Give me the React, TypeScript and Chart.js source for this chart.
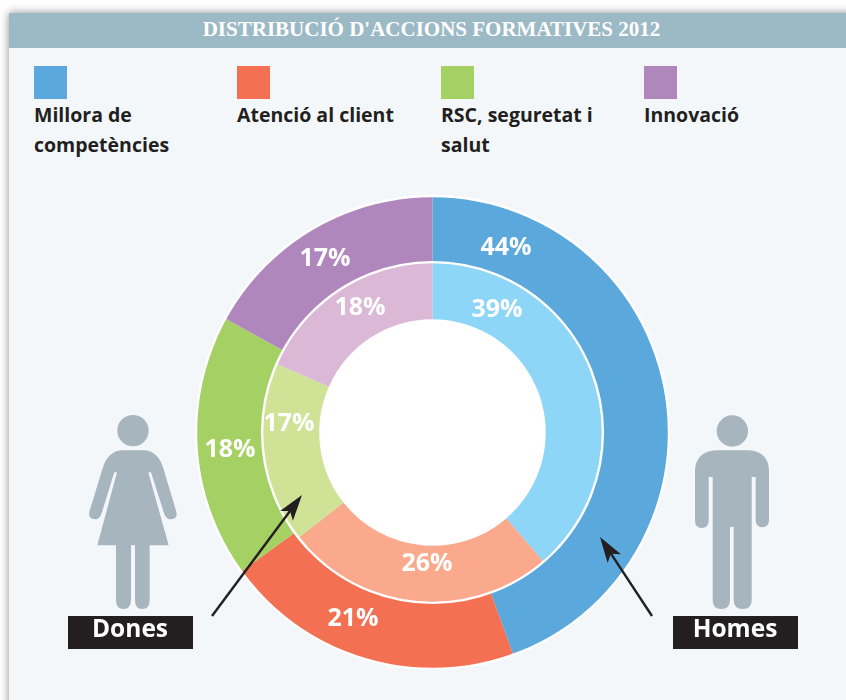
import React, { useEffect, useRef } from "react";
import { Chart, registerables } from "chart.js";

Chart.register(...registerables);

const TITLE = "DISTRIBUCIÓ D'ACCIONS FORMATIVES 2012";
const CATEGORIES = ["Millora de competències", "Atenció al client", "RSC, seguretat i salut", "Innovació"];
const LEGEND_LINES = [["Millora de", "competències"], ["Atenció al client"], ["RSC, seguretat i", "salut"], ["Innovació"]];
const HOMES = [44.45, 20.55, 18, 17];
const DONES = [38.7, 25.7, 17.2, 18.4];
const HOMES_COLORS = ["#5ba8dc", "#f47052", "#a5d063", "#b087bd"];
const DONES_COLORS = ["#8dd6f7", "#fba98c", "#cfe296", "#dcb8d7"];
const HOMES_LABEL_AT = [[506, 248], [353, 619], [230, 450], [325, 259]];
const DONES_LABEL_AT = [[497, 310], [427, 564], [289, 424], [360, 308]];
const LEGEND_X = [34, 237, 441, 644];

const FIG = "#a7b5bf";
const INK = "#231f20";
const SANS = '"Open Sans", "Noto Sans", sans-serif';

const WOMAN = "M215 151L285 151Q325 155 340 205L379 335Q385 357 362 358Q348 358 342 340L303 217L295 217L356 436L299 436L299 600Q299 627 276 627Q255 627 255 600L255 436L243 436L243 600Q243 627 220 627Q198 627 198 600L198 436L142 436L201 217L193 217L155 340Q149 358 135 358Q113 357 118 335L158 205Q172 155 215 151Z";
const MAN = "M380 151L475 151Q537 155 537 215L537 360Q537 382 517 382Q497 382 497 360L497 231L485 231L485 600Q485 627 458 627Q431 627 431 600L431 381L420 381L420 600Q420 627 394 627Q368 627 368 600L368 231L356 231L356 360Q356 384 335 384Q315 384 315 360L315 215Q315 155 380 151Z";

function arrow(ctx: CanvasRenderingContext2D, x0: number, y0: number, x1: number, y1: number) {
  const a = Math.atan2(y1 - y0, x1 - x0);
  ctx.save();
  ctx.translate(x1, y1);
  ctx.rotate(a);
  ctx.strokeStyle = INK;
  ctx.fillStyle = INK;
  ctx.lineWidth = 2.4;
  ctx.beginPath();
  ctx.moveTo(-Math.hypot(x1 - x0, y1 - y0), 0);
  ctx.lineTo(-16, 0);
  ctx.stroke();
  ctx.beginPath();
  ctx.moveTo(0, 0);
  ctx.lineTo(-26, 8);
  ctx.lineTo(-20, 0);
  ctx.lineTo(-26, -8);
  ctx.closePath();
  ctx.fill();
  ctx.restore();
}

function figure(ctx: CanvasRenderingContext2D, ox: number, oy: number, path: string, hx: number, hy: number) {
  ctx.save();
  ctx.translate(ox, oy);
  ctx.scale(1 / 3, 1 / 3);
  ctx.fillStyle = FIG;
  ctx.fill(new Path2D(path));
  ctx.beginPath();
  ctx.arc(hx, hy, 47, 0, Math.PI * 2);
  ctx.fill();
  ctx.restore();
}

function tag(ctx: CanvasRenderingContext2D, x: number, text: string) {
  ctx.fillStyle = INK;
  ctx.fillRect(x, 616, 125, 33);
  ctx.fillStyle = "#ffffff";
  ctx.font = `700 24.5px ${SANS}`;
  ctx.textAlign = "center";
  ctx.textBaseline = "alphabetic";
  ctx.fillText(text, x + 62, 637);
}

const decor = {
  id: "decor",
  beforeDatasetsDraw(chart: any) {
    const { ctx } = chart;
    const arc = chart.getDatasetMeta(1).data[0];
    ctx.save();
    ctx.fillStyle = "#ffffff";
    ctx.beginPath();
    ctx.arc(arc.x, arc.y, arc.innerRadius, 0, Math.PI * 2);
    ctx.fill();
    ctx.restore();
  },
  afterDatasetsDraw(chart: any) {
    const { ctx } = chart;
    ctx.save();
    [0, 1].forEach((i) => {
      const arc = chart.getDatasetMeta(i).data[0];
      ctx.strokeStyle = "#ffffff";
      ctx.lineWidth = 2.4;
      ctx.beginPath();
      ctx.arc(arc.x, arc.y, arc.outerRadius, 0, Math.PI * 2);
      ctx.stroke();
    });
    ctx.fillStyle = "#ffffff";
    ctx.font = `700 25px ${SANS}`;
    ctx.textAlign = "center";
    ctx.textBaseline = "middle";
    HOMES.forEach((v, i) => ctx.fillText(`${Math.round(v)}%`, HOMES_LABEL_AT[i][0], HOMES_LABEL_AT[i][1]));
    DONES.forEach((v, i) => ctx.fillText(`${Math.round(v)}%`, DONES_LABEL_AT[i][0], DONES_LABEL_AT[i][1]));
    figure(ctx, 50, 400, WOMAN, 249, 92);
    figure(ctx, 590, 400, MAN, 427, 93);
    arrow(ctx, 212, 616, 302, 495);
    arrow(ctx, 652, 616, 600, 537);
    tag(ctx, 68, "Dones");
    tag(ctx, 673, "Homes");
    ctx.restore();
  },
};

export default function App() {
  const ref = useRef<HTMLCanvasElement>(null);
  useEffect(() => {
    document.body.style.margin = "0";
    const chart = new Chart(ref.current!, {
      type: "doughnut",
      data: {
        labels: CATEGORIES,
        datasets: [
          { label: "Homes", data: HOMES, backgroundColor: HOMES_COLORS, borderWidth: 0, weight: 66 },
          { label: "Dones", data: DONES, backgroundColor: DONES_COLORS, borderWidth: 0, weight: 57 },
        ],
      },
      options: {
        responsive: false,
        animation: false,
        cutout: "47.9%",
        layout: { padding: { left: 196, right: 177, top: 196, bottom: 31 } },
        plugins: { legend: { display: false }, tooltip: { enabled: false } },
      },
      plugins: [decor],
    } as any);
    return () => chart.destroy();
  }, []);

  return (
    <div style={{ position: "relative", width: 846, height: 700, overflow: "hidden", background: "#ffffff" }}>
      <div style={{ position: "absolute", left: 9, top: 13, width: 900, height: 720, background: "#f3f7fa", boxShadow: "0 0 9px rgba(0,0,0,0.45)" }} />
      <div style={{ position: "absolute", left: 9, top: 13, width: 837, height: 35, background: "#9cb9c6" }} />
      <div style={{ position: "absolute", left: 9, top: 13, width: 845, height: 35, textAlign: "center", color: "#ffffff", font: '700 21px/33px "Liberation Serif", serif', whiteSpace: "nowrap" }}>
        {TITLE}
      </div>
      {LEGEND_LINES.map((lines, i) => (
        <div key={i} style={{ position: "absolute", left: LEGEND_X[i], top: 66 }}>
          <div style={{ width: 33, height: 33, background: HOMES_COLORS[i] }} />
          <div style={{ marginTop: 1, font: `700 19.5px/30px ${SANS}`, color: INK, whiteSpace: "nowrap" }}>
            {lines.map((l) => <div key={l}>{l}</div>)}
          </div>
        </div>
      ))}
      <canvas ref={ref} width={846} height={700} style={{ position: "absolute", left: 0, top: 0, width: 846, height: 700 }} />
    </div>
  );
}
